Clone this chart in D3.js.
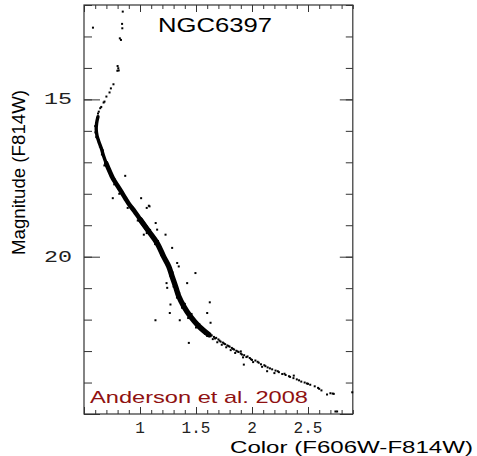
<!DOCTYPE html>
<html><head><meta charset="utf-8">
<script src="https://cdn.jsdelivr.net/npm/d3@7/dist/d3.min.js"></script>
<style>html,body{margin:0;padding:0;background:#fff;}svg{display:block;}</style>
</head><body>
<svg id="chart" width="477" height="456"></svg>
<script>
// ---- data ----
const title = "NGC6397";
const credit = "Anderson et al. 2008";
const xTitle = "Color (F606W-F814W)";
const yTitle = "Magnitude (F814W)";
const xTickValues = [1, 1.5, 2, 2.5];
const xTickLabels = ["1", "1.5", "2", "2.5"];
const yTickValues = [15, 20];
const yTickLabels = ["15", "20"];

// fiducial ridge of the dense main sequence
const ridgeColor = [0.625,0.613,0.609,0.616,0.633,0.654,0.675,0.698,0.727,0.757,0.795,0.832,0.870,0.906,0.950,1.004,1.079,1.153,1.210,1.257,1.287,1.317,1.346,1.391,1.450,1.525,1.614];
const ridgeMag   = [15.55,15.75,15.95,16.15,16.35,16.55,16.80,17.03,17.27,17.50,17.72,17.93,18.15,18.35,18.55,18.83,19.20,19.57,19.99,20.31,20.63,20.94,21.26,21.58,21.90,22.21,22.48];

// subgiant / giant branch stars
const giantColor = [0.846,0.580,0.840,0.842,0.820,0.830,0.800,0.806,0.798,0.810,0.763,0.740,0.728,0.700,0.683,0.675,0.654,0.645,0.632,0.625,0.618];
const giantMag   = [12.21,12.72,12.60,12.74,13.06,13.11,13.94,14.01,14.09,14.08,14.52,14.65,14.78,14.91,15.07,15.10,15.24,15.28,15.39,15.45,15.60];

// stars on the edges of the dense band
const edgeColor = [0.600,0.602,0.630,0.610,0.642,0.668,0.660,0.690,0.682,0.715,0.740,0.775,0.770,0.810,0.815,0.850,0.890,0.890,0.930,0.985,0.980,1.030,1.060,1.060,1.100,1.130,1.135,1.180,1.190,1.230,1.240,1.275,1.270,1.305,1.300,1.335,1.330,1.370,1.375,1.420,1.430,1.480,1.500,1.560,1.580,1.290,1.320,1.350,1.400,1.460,1.530,1.200,1.160,1.090];
const edgeMag   = [15.85,16.05,16.30,16.20,16.50,16.62,16.75,16.95,17.10,17.20,17.45,17.55,17.70,17.85,18.00,18.05,18.30,18.45,18.42,18.70,18.85,18.95,19.05,19.25,19.30,19.40,19.60,19.70,19.95,20.05,20.25,20.40,20.60,20.75,20.95,21.10,21.30,21.40,21.62,21.72,21.95,22.02,22.25,22.30,22.45,20.50,20.85,21.15,21.50,21.82,22.15,19.85,19.50,19.15];

// faint, sparse part of the main sequence
const faintColor = [1.62,1.64,1.60,1.66,1.68,1.65,1.70,1.72,1.69,1.74,1.76,1.73,1.78,1.80,1.77,1.82,1.84,1.81,1.86,1.88,1.85,1.90,1.93,1.96,1.92,1.98,2.00,2.03,2.01,2.06,2.08,2.11,2.09,2.14,2.18,2.21,2.24,2.20,2.27,2.30,2.34,2.37,2.40,2.44,2.47,2.52,2.56,2.60,2.62,2.70,2.73,1.63,1.67,1.71,1.75,1.79,1.83,1.87,1.91,1.95,1.99,2.05,2.12,2.16,2.23,2.29,2.33,2.42,2.50];
const faintMag   = [22.47,22.50,22.52,22.55,22.58,22.62,22.63,22.70,22.72,22.73,22.78,22.80,22.82,22.86,22.88,22.90,22.95,22.97,22.99,23.03,23.06,23.08,23.13,23.17,23.20,23.22,23.28,23.30,23.35,23.37,23.42,23.45,23.50,23.52,23.58,23.62,23.67,23.70,23.73,23.76,23.82,23.86,23.90,23.97,24.00,24.07,24.12,24.20,24.25,24.34,24.36,22.53,22.60,22.67,22.76,22.84,22.93,23.01,23.11,23.19,23.26,23.34,23.48,23.55,23.64,23.72,23.80,23.93,24.04];

// field stars / outliers
const outColor = [0.868,0.757,1.010,1.085,1.060,1.079,1.140,1.153,1.228,1.034,1.287,1.332,1.346,1.495,1.421,1.237,1.243,1.623,1.272,1.266,1.138,1.355,1.600,1.630,1.436,1.900,1.927,2.135,2.373,2.490,2.590,2.670,2.720,2.895,2.745,2.760];
const outMag   = [17.43,18.14,18.14,18.40,18.45,18.38,18.93,19.14,19.30,19.30,19.72,20.20,20.31,20.52,20.84,20.84,20.99,21.45,21.52,21.79,22.02,22.02,21.79,22.10,22.74,23.01,23.43,23.64,23.78,24.03,24.17,24.38,24.35,24.31,24.92,24.92];

// ---- drawing ----
const svg = d3.select("#chart");
const x = d3.scaleLinear().domain([0.5, 2.9]).range([84, 352.8]);
const y = d3.scaleLinear().domain([12, 25]).range([5, 414]);
const [x0, x1] = x.range(), [y0, y1] = y.range();

// ticks
const minorX = d3.range(5, 30).map(d => d / 10);
const majorX = d3.range(1, 6).map(d => d / 2);
const minorY = d3.range(12, 26);
const majorY = [15, 20, 25];
function tickAxis(axis, tr) {
  const g = svg.append("g").attr("transform", tr).call(axis);
  g.select(".domain").remove();
  g.selectAll("line").attr("stroke", "#333").attr("stroke-width", 1);
  g.selectAll("text").remove();
}
tickAxis(d3.axisBottom(x).tickValues(minorX).tickSize(-4), `translate(0,${y1})`);
tickAxis(d3.axisBottom(x).tickValues(majorX).tickSize(-7), `translate(0,${y1})`);
tickAxis(d3.axisTop(x).tickValues(minorX).tickSize(-4), `translate(0,${y0})`);
tickAxis(d3.axisTop(x).tickValues(majorX).tickSize(-7), `translate(0,${y0})`);
tickAxis(d3.axisLeft(y).tickValues(minorY).tickSize(-8), `translate(${x0},0)`);
tickAxis(d3.axisLeft(y).tickValues(majorY).tickSize(-16), `translate(${x0},0)`);
tickAxis(d3.axisRight(y).tickValues(minorY).tickSize(-7), `translate(${x1},0)`);
tickAxis(d3.axisRight(y).tickValues(majorY).tickSize(-13), `translate(${x1},0)`);

// frame
svg.append("rect").attr("x", x0).attr("y", y0).attr("width", x1 - x0).attr("height", y1 - y0)
  .attr("fill", "none").attr("stroke", "#333").attr("stroke-width", 1.2);

// dense band
const ridge = ridgeColor.map((c, i) => [c, ridgeMag[i]]);
const line = d3.line().x(d => x(d[0])).y(d => y(d[1])).curve(d3.curveCatmullRom);
svg.append("path").datum(ridge.slice(0, 9)).attr("d", line)
  .attr("fill", "none").attr("stroke", "#000").attr("stroke-width", 3.4).attr("stroke-linecap", "round");
svg.append("path").datum(ridge.slice(7, 17)).attr("d", line)
  .attr("fill", "none").attr("stroke", "#000").attr("stroke-width", 4.6).attr("stroke-linecap", "round");
svg.append("path").datum(ridge.slice(15)).attr("d", line)
  .attr("fill", "none").attr("stroke", "#000").attr("stroke-width", 5.4).attr("stroke-linecap", "round");

// individual stars
function stars(cs, ms) {
  svg.append("g").selectAll("rect").data(cs.map((c, i) => [c, ms[i]])).join("rect")
    .attr("x", d => x(d[0]) - 1).attr("y", d => y(d[1]) - 1)
    .attr("width", 2).attr("height", 2).attr("fill", "#000");
}
stars(giantColor, giantMag);
stars(edgeColor, edgeMag);
stars(faintColor, faintMag);
stars(outColor, outMag);

// tick labels
svg.append("g").selectAll("text").data(xTickValues).join("text")
  .attr("x", d => x(d)).attr("y", 433).attr("text-anchor", "middle")
  .attr("font-family", "Liberation Mono, DejaVu Sans Mono, monospace").attr("font-size", 16)
  .attr("fill", "#222")
  .text((d, i) => xTickLabels[i]);
svg.append("g").selectAll("text").data(yTickValues).join("text")
  .attr("x", 72).attr("y", d => y(d) + 5).attr("text-anchor", "end")
  .attr("font-family", "Liberation Mono, DejaVu Sans Mono, monospace").attr("font-size", 16)
  .attr("fill", "#222")
  .attr("textLength", 28).attr("lengthAdjust", "spacingAndGlyphs")
  .text((d, i) => yTickLabels[i]);

// titles
const sans = "Liberation Sans, Arial, sans-serif";
svg.append("text").attr("x", 158).attr("y", 32).attr("font-family", sans).attr("font-size", 19.5)
  .attr("textLength", 114).attr("lengthAdjust", "spacingAndGlyphs").attr("fill", "#000").text(title);
svg.append("text").attr("x", 90).attr("y", 403).attr("font-family", sans).attr("font-size", 17)
  .attr("textLength", 218).attr("lengthAdjust", "spacingAndGlyphs").attr("fill", "#8f1111").text(credit);
svg.append("text").attr("x", 230).attr("y", 453).attr("font-family", sans).attr("font-size", 16.5)
  .attr("textLength", 243).attr("lengthAdjust", "spacingAndGlyphs").attr("fill", "#000").text(xTitle);
svg.append("text").attr("transform", "translate(24.5,255) rotate(-90)").attr("font-family", sans)
  .attr("font-size", 18).attr("textLength", 165).attr("lengthAdjust", "spacingAndGlyphs")
  .attr("fill", "#000").text(yTitle);
</script>
</body></html>
